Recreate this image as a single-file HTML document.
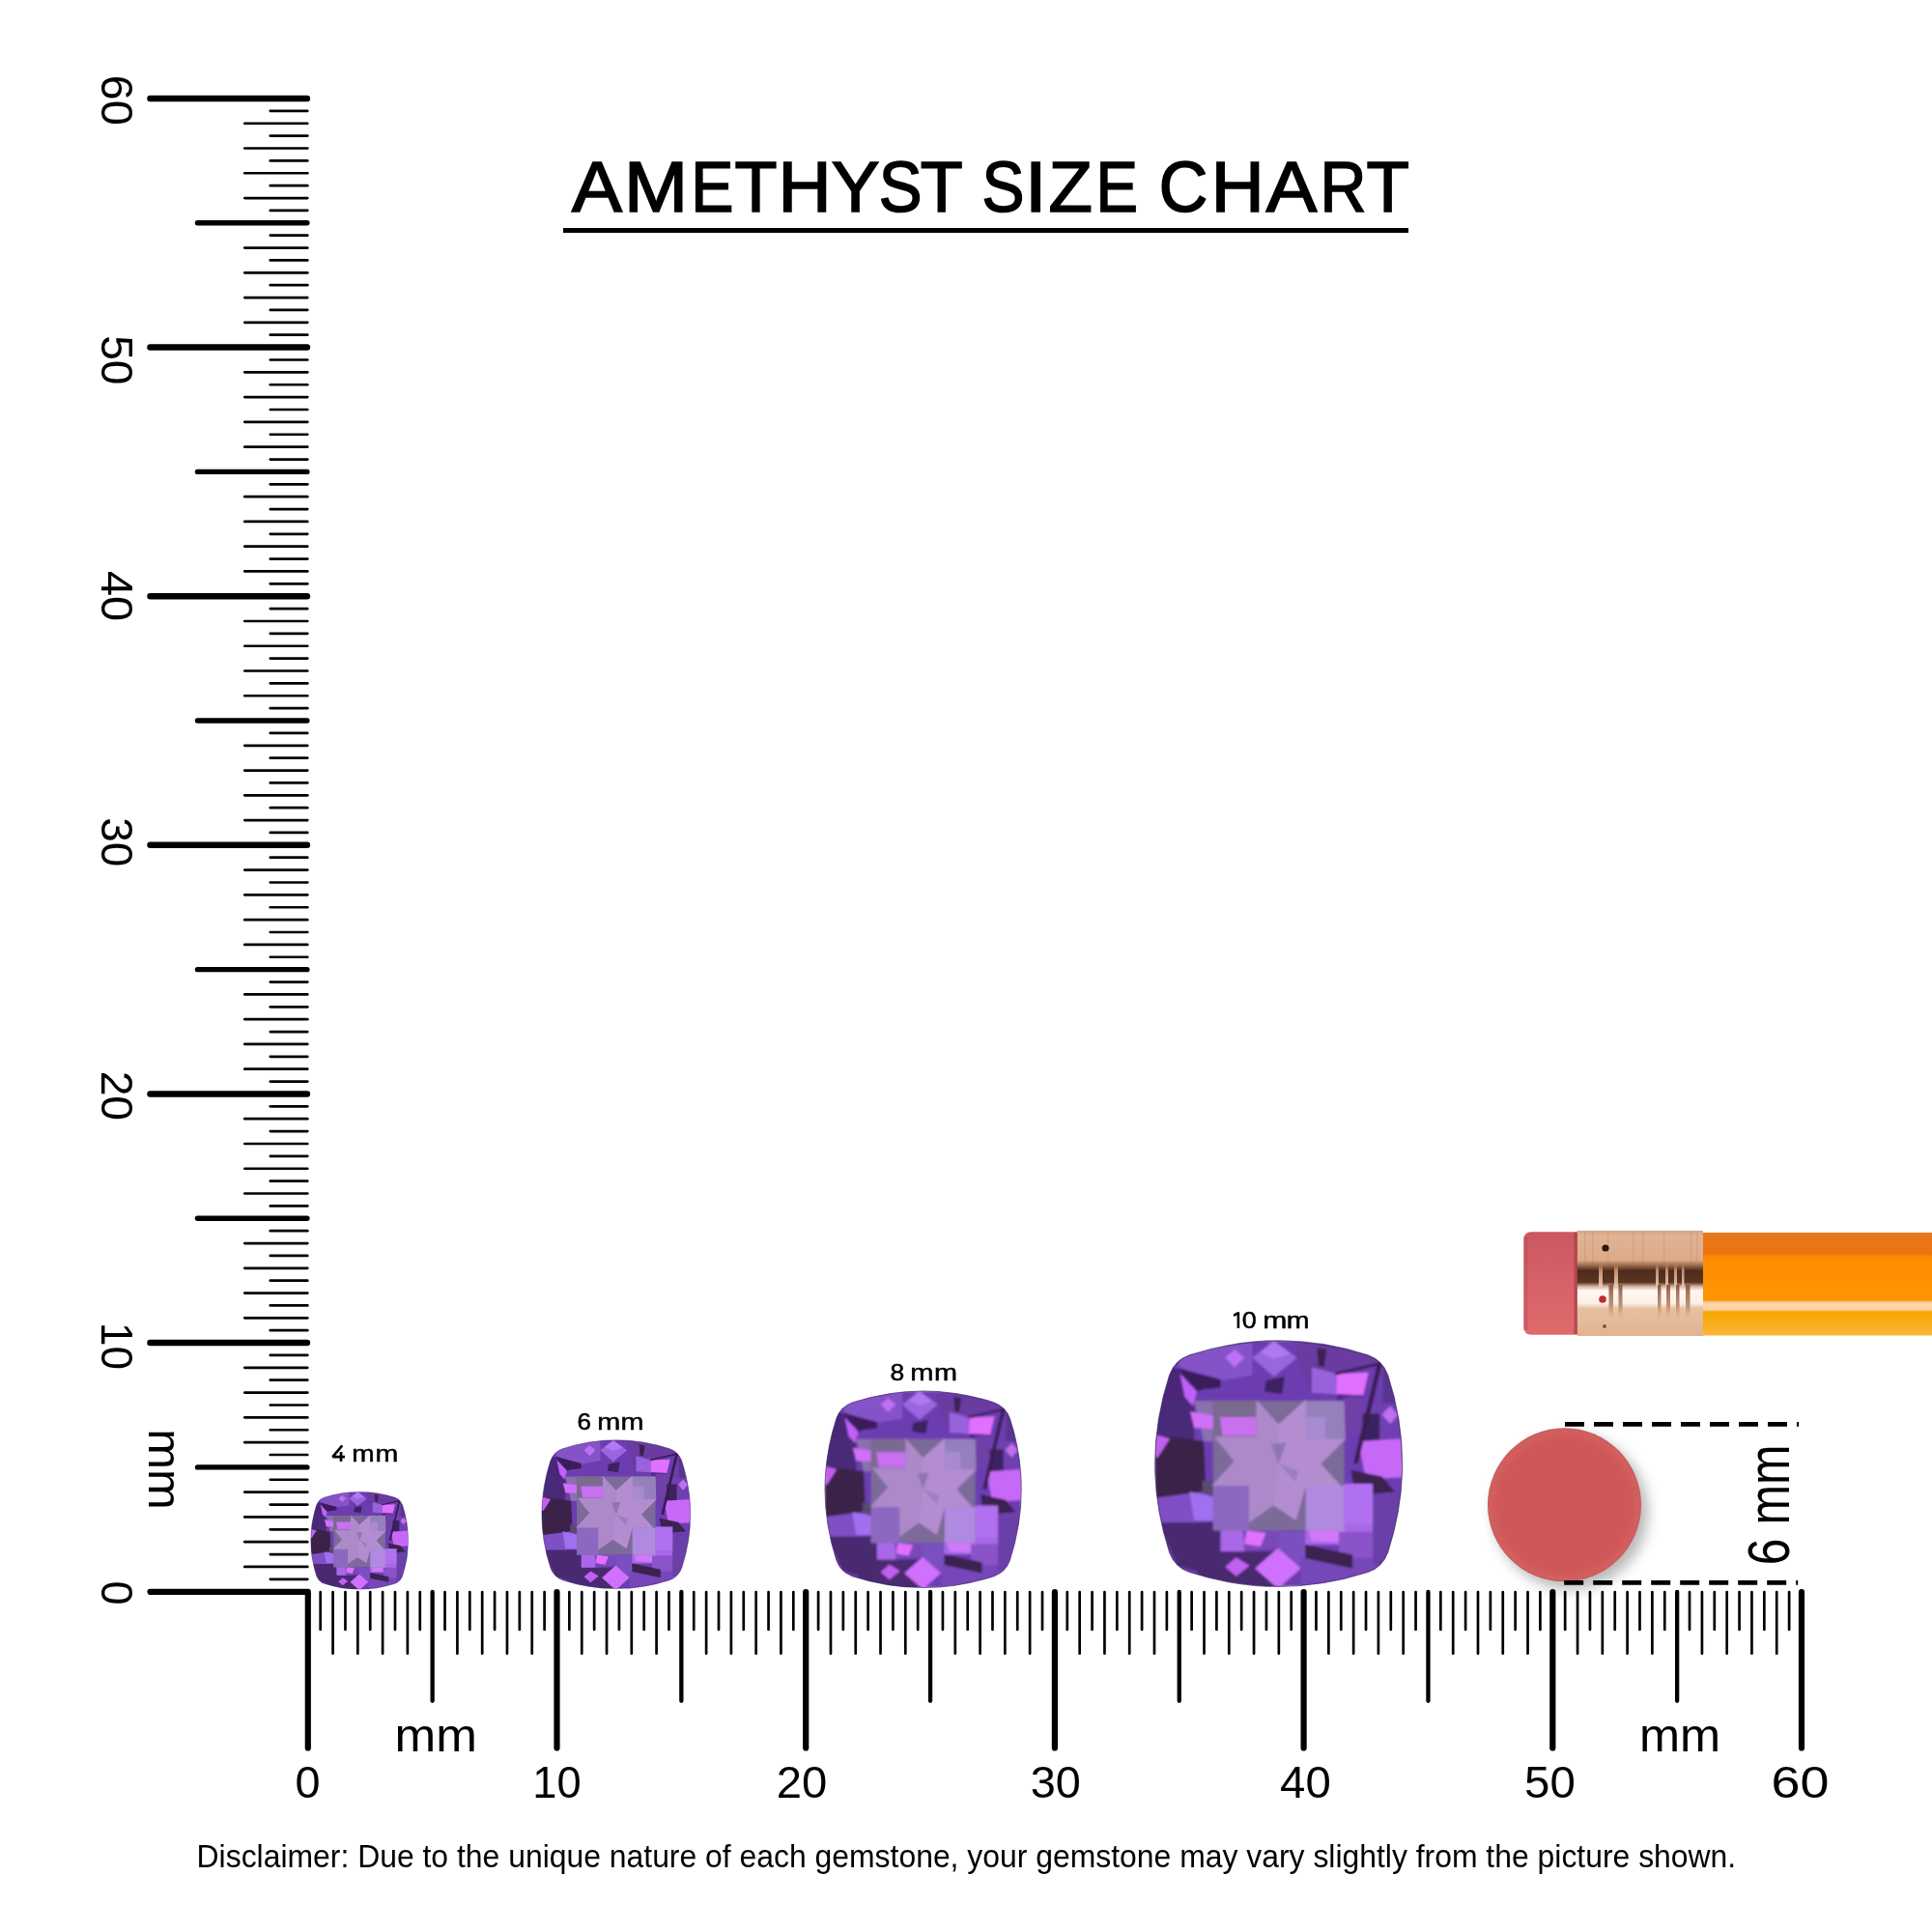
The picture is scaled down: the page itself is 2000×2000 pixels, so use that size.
<!DOCTYPE html>
<html><head><meta charset="utf-8"><title>Amethyst Size Chart</title>
<style>html,body{margin:0;padding:0;background:#fff;width:2000px;height:2000px;overflow:hidden}svg{display:block;will-change:transform}text{font-family:"Liberation Sans",sans-serif}</style>
</head><body>
<svg width="2000" height="2000" viewBox="0 0 2000 2000" font-family="Liberation Sans, sans-serif">
<defs><clipPath id="cc"><path d="M296.2 141.1 Q955.0 -71.1 1613.8 141.1 Q1724.3 179.9 1763.3 289.8 Q1976.7 945.0 1763.3 1600.2 Q1724.3 1710.1 1613.8 1748.9 Q955.0 1961.1 296.2 1748.9 Q185.7 1710.1 146.7 1600.2 Q-66.7 945.0 146.7 289.8 Q185.7 179.9 296.2 141.1Z"/></clipPath><filter id="gb" x="0" y="0" width="1" height="1"><feGaussianBlur stdDeviation="8"/></filter><g id="gem"><g clip-path="url(#cc)"><g filter="url(#gb)"><polygon points="40,35 1870,35 1870,1855 40,1855" fill="#6c3cb0"/><polygon points="200,100 760,40 760,290 520,330 220,230" fill="#8552c8"/><polygon points="630,100 700,160 630,230 560,160" fill="#c070f8"/><polygon points="920,35 1090,160 920,300 760,160" fill="#9a66e0"/><polygon points="920,40 1040,130 920,170 820,120" fill="#b278f4"/><polygon points="1090,40 1677,100 1700,200 1376,280 1200,420 1090,160" fill="#6a3aa0"/><polygon points="1240,90 1310,100 1290,230 1250,220" fill="#3a2050"/><polygon points="860,330 1000,300 980,430 850,410" fill="#3c2060"/><polygon points="1200,230 1387,280 1380,430 1200,420" fill="#9862dc"/><polygon points="1387,280 1620,270 1580,440 1380,430" fill="#e070ff"/><polygon points="1387,430 1580,440 1560,515 1387,515" fill="#5a2890"/><polygon points="40,300 330,300 330,780 40,780" fill="#4a2a78"/><polygon points="150,230 520,320 350,420 230,480 100,460" fill="#4a2878"/><polygon points="215,240 525,320 525,380 350,400" fill="#3a1a5a"/><polygon points="225,280 350,410 320,520 260,450" fill="#c060f8"/><polygon points="330,480 470,480 470,780 400,780" fill="#8a70b0"/><polygon points="300,560 540,600 540,690 330,680" fill="#d070f8"/><polygon points="40,730 400,780 420,1200 40,1230" fill="#3a2448"/><polygon points="40,730 150,760 60,900 40,890" fill="#c060f0"/><polygon points="40,1200 420,1150 513,1367 60,1400" fill="#8050c8"/><polygon points="295,1154 513,1200 513,1367 330,1367" fill="#a070f0"/><polygon points="390,1070 475,1070 475,1170 390,1170" fill="#5a4a70"/><polygon points="60,1380 540,1380 560,1800 210,1705" fill="#4a2c70"/><polygon points="350,1595 950,1595 950,1870 350,1870" fill="#4a2a70"/><polygon points="640,1640 740,1700 640,1780 560,1710" fill="#c060f0"/><polygon points="525,1395 720,1395 700,1595 525,1595" fill="#a868e8"/><polygon points="690,1420 966,1420 950,1570 700,1595" fill="#7a48b8"/><polygon points="720,1440 860,1460 820,1560 700,1540" fill="#e070ff"/><polygon points="952,1445 1177,1445 1177,1645 1120,1720 952,1570" fill="#7a50c0"/><polygon points="950,1570 1120,1720 950,1870 780,1720" fill="#d070ff"/><polygon points="1152,1395 1652,1395 1652,1545 1152,1545" fill="#a868e8"/><polygon points="1160,1380 1420,1400 1500,1530 1200,1520" fill="#d078f8"/><polygon points="1120,1645 1702,1645 1702,1870 1120,1870" fill="#7446b8"/><polygon points="1400,1450 1652,1450 1652,1645 1400,1645" fill="#8a52c8"/><polygon points="1152,1545 1502,1620 1502,1720 1152,1645" fill="#3a2050"/><polygon points="1727,250 1870,250 1870,525 1727,525" fill="#5a3490"/><polygon points="1577,500 1870,500 1870,966 1577,966" fill="#7040b0"/><polygon points="1780,520 1840,580 1780,650 1720,580" fill="#c070f0"/><polygon points="1552,575 1702,575 1702,775 1552,775" fill="#3a2060"/><polygon points="1546,781 1870,760 1870,1046 1600,1060" fill="#c868f8"/><polygon points="1490,993 1720,1040 1815,1154 1520,1180" fill="#3a2050"/><polygon points="1652,1190 1870,1190 1870,1695 1652,1695" fill="#6a40a8"/><polygon points="1402,1095 1652,1095 1652,1395 1402,1395" fill="#b070f0"/><polygon points="1440,450 1577,450 1577,740 1440,740" fill="#6e40a8"/><polygon points="1690,190 1720,205 1540,950 1510,940" fill="#3a1a50"/><polygon points="1700,195 1376,270 1376,290 1700,215" fill="#3a1a50"/><polygon points="470,480 1440,480 1440,1440 470,1440" fill="#7b6a99"/><polygon points="470,480 790,480 790,745 470,745" fill="#7a6a90"/><polygon points="520,600 790,600 790,740 540,740" fill="#c870f0"/><polygon points="1156,480 1440,480 1449,763 1156,763" fill="#9680bc"/><polygon points="1156,600 1300,600 1300,763 1156,763" fill="#a88ad0"/><polygon points="470,1109 735,1109 735,1440 470,1440" fill="#8c68c0"/><polygon points="1156,1109 1440,1109 1440,1440 1156,1440" fill="#b08ae0"/><polygon points="790,472 955,654 1156,472 1156,763 1449,763 1266,945 1413,1109 1156,1109 1083,1364 918,1254 735,1382 735,1109 461,1109 626,927 479,745 790,745" fill="#ad89ca"/><polygon points="955,654 1156,472 1156,763 1449,763 1266,945 1413,1109 1156,1109 1083,1364 918,1254 955,945" fill="#b48dd0"/><polygon points="955,945 900,800 1010,790" fill="#8f76b0"/><polygon points="955,945 1100,1000 1080,1080" fill="#9a80bc"/></g></g><path d="M296.2 141.1 Q955.0 -71.1 1613.8 141.1 Q1724.3 179.9 1763.3 289.8 Q1976.7 945.0 1763.3 1600.2 Q1724.3 1710.1 1613.8 1748.9 Q955.0 1961.1 296.2 1748.9 Q185.7 1710.1 146.7 1600.2 Q-66.7 945.0 146.7 289.8 Q185.7 179.9 296.2 141.1Z" fill="none" stroke="#3e2266" stroke-width="9" opacity="0.7"/></g>
<linearGradient id="er" x1="0" y1="0" x2="0" y2="1"><stop offset="0" stop-color="#cb5860"/><stop offset="0.5" stop-color="#d6626a"/><stop offset="1" stop-color="#e06b6c"/></linearGradient>
<linearGradient id="fe" x1="0" y1="0" x2="0" y2="1">
 <stop offset="0" stop-color="#d4a484"/><stop offset="0.05" stop-color="#e2b494"/><stop offset="0.28" stop-color="#dcaa88"/>
 <stop offset="0.33" stop-color="#9a6a4c"/><stop offset="0.38" stop-color="#4e2c1c"/><stop offset="0.49" stop-color="#5a3422"/><stop offset="0.53" stop-color="#d8b49c"/>
 <stop offset="0.57" stop-color="#fff8f2"/><stop offset="0.69" stop-color="#fbefe6"/><stop offset="0.74" stop-color="#e8c0a0"/><stop offset="1" stop-color="#e2b490"/></linearGradient>
<linearGradient id="stD" x1="0" y1="0" x2="0" y2="1"><stop offset="0" stop-color="#c89070" stop-opacity="0"/><stop offset="0.3" stop-color="#d09a78" stop-opacity="0.9"/><stop offset="1" stop-color="#f0d0b8" stop-opacity="0.9"/></linearGradient>
<linearGradient id="stL" x1="0" y1="0" x2="0" y2="1"><stop offset="0" stop-color="#8a5034" stop-opacity="0.9"/><stop offset="0.6" stop-color="#a06848" stop-opacity="0.7"/><stop offset="1" stop-color="#c08868" stop-opacity="0"/></linearGradient>
<linearGradient id="bo" x1="0" y1="0" x2="0" y2="1">
 <stop offset="0" stop-color="#e8781e"/><stop offset="0.2" stop-color="#eb7410"/><stop offset="0.24" stop-color="#ff8a00"/>
 <stop offset="0.66" stop-color="#ff9600"/><stop offset="0.67" stop-color="#f7c090"/><stop offset="0.7" stop-color="#fdd8ac"/><stop offset="0.75" stop-color="#fcd0a0"/>
 <stop offset="0.77" stop-color="#f6a600"/><stop offset="1" stop-color="#fdb43a"/></linearGradient>
<radialGradient id="rc" cx="0.5" cy="0.5" r="0.5"><stop offset="0.85" stop-color="#cf5758"/><stop offset="0.97" stop-color="#d2605f"/><stop offset="1" stop-color="#c8595a"/></radialGradient>
<filter id="sh" x="-30%" y="-30%" width="160%" height="160%"><feGaussianBlur stdDeviation="7"/></filter></defs>
<rect width="2000" height="2000" fill="#fff"/>
<g font-size="73.7" stroke="#000" stroke-width="1.7"><text x="591.90" y="218.8" textLength="51.90" lengthAdjust="spacingAndGlyphs">A</text><text x="646.14" y="218.8" textLength="66.12" lengthAdjust="spacingAndGlyphs">M</text><text x="715.22" y="218.8" textLength="44.18" lengthAdjust="spacingAndGlyphs">E</text><text x="760.53" y="218.8" textLength="43.97" lengthAdjust="spacingAndGlyphs">T</text><text x="805.59" y="218.8" textLength="55.07" lengthAdjust="spacingAndGlyphs">H</text><text x="860.71" y="218.8" textLength="49.67" lengthAdjust="spacingAndGlyphs">Y</text><text x="909.81" y="218.8" textLength="44.72" lengthAdjust="spacingAndGlyphs">S</text><text x="952.63" y="218.8" textLength="43.97" lengthAdjust="spacingAndGlyphs">T</text><text x="1016.56" y="218.8" textLength="43.91" lengthAdjust="spacingAndGlyphs">S</text><text x="1060.83" y="218.8" textLength="22.94" lengthAdjust="spacingAndGlyphs">I</text><text x="1085.49" y="218.8" textLength="45.38" lengthAdjust="spacingAndGlyphs">Z</text><text x="1134.51" y="218.8" textLength="43.44" lengthAdjust="spacingAndGlyphs">E</text><text x="1199.70" y="218.8" textLength="50.52" lengthAdjust="spacingAndGlyphs">C</text><text x="1253.81" y="218.8" textLength="54.95" lengthAdjust="spacingAndGlyphs">H</text><text x="1310.80" y="218.8" textLength="52.51" lengthAdjust="spacingAndGlyphs">A</text><text x="1366.41" y="218.8" textLength="47.92" lengthAdjust="spacingAndGlyphs">R</text><text x="1414.42" y="218.8" textLength="44.40" lengthAdjust="spacingAndGlyphs">T</text></g><rect x="583" y="236" width="875" height="5" fill="#000"/>
<g stroke="#000" stroke-linecap="round"><line x1="279.8" y1="1634.82" x2="318.3" y2="1634.82" stroke-width="2.7"/><line x1="253.3" y1="1621.94" x2="318.3" y2="1621.94" stroke-width="2.7"/><line x1="279.8" y1="1609.06" x2="318.3" y2="1609.06" stroke-width="2.7"/><line x1="253.3" y1="1596.18" x2="318.3" y2="1596.18" stroke-width="2.7"/><line x1="279.8" y1="1583.30" x2="318.3" y2="1583.30" stroke-width="2.7"/><line x1="253.3" y1="1570.41" x2="318.3" y2="1570.41" stroke-width="2.7"/><line x1="279.8" y1="1557.53" x2="318.3" y2="1557.53" stroke-width="2.7"/><line x1="253.3" y1="1544.65" x2="318.3" y2="1544.65" stroke-width="2.7"/><line x1="279.8" y1="1531.77" x2="318.3" y2="1531.77" stroke-width="2.7"/><line x1="204.5" y1="1518.89" x2="317.9" y2="1518.89" stroke-width="5.4"/><line x1="279.8" y1="1506.01" x2="318.3" y2="1506.01" stroke-width="2.7"/><line x1="253.3" y1="1493.13" x2="318.3" y2="1493.13" stroke-width="2.7"/><line x1="279.8" y1="1480.25" x2="318.3" y2="1480.25" stroke-width="2.7"/><line x1="253.3" y1="1467.37" x2="318.3" y2="1467.37" stroke-width="2.7"/><line x1="279.8" y1="1454.49" x2="318.3" y2="1454.49" stroke-width="2.7"/><line x1="253.3" y1="1441.60" x2="318.3" y2="1441.60" stroke-width="2.7"/><line x1="279.8" y1="1428.72" x2="318.3" y2="1428.72" stroke-width="2.7"/><line x1="253.3" y1="1415.84" x2="318.3" y2="1415.84" stroke-width="2.7"/><line x1="279.8" y1="1402.96" x2="318.3" y2="1402.96" stroke-width="2.7"/><line x1="155.5" y1="1390.08" x2="317.9" y2="1390.08" stroke-width="6.5"/><line x1="279.8" y1="1377.20" x2="318.3" y2="1377.20" stroke-width="2.7"/><line x1="253.3" y1="1364.32" x2="318.3" y2="1364.32" stroke-width="2.7"/><line x1="279.8" y1="1351.44" x2="318.3" y2="1351.44" stroke-width="2.7"/><line x1="253.3" y1="1338.56" x2="318.3" y2="1338.56" stroke-width="2.7"/><line x1="279.8" y1="1325.68" x2="318.3" y2="1325.68" stroke-width="2.7"/><line x1="253.3" y1="1312.79" x2="318.3" y2="1312.79" stroke-width="2.7"/><line x1="279.8" y1="1299.91" x2="318.3" y2="1299.91" stroke-width="2.7"/><line x1="253.3" y1="1287.03" x2="318.3" y2="1287.03" stroke-width="2.7"/><line x1="279.8" y1="1274.15" x2="318.3" y2="1274.15" stroke-width="2.7"/><line x1="204.5" y1="1261.27" x2="317.9" y2="1261.27" stroke-width="5.4"/><line x1="279.8" y1="1248.39" x2="318.3" y2="1248.39" stroke-width="2.7"/><line x1="253.3" y1="1235.51" x2="318.3" y2="1235.51" stroke-width="2.7"/><line x1="279.8" y1="1222.63" x2="318.3" y2="1222.63" stroke-width="2.7"/><line x1="253.3" y1="1209.75" x2="318.3" y2="1209.75" stroke-width="2.7"/><line x1="279.8" y1="1196.87" x2="318.3" y2="1196.87" stroke-width="2.7"/><line x1="253.3" y1="1183.98" x2="318.3" y2="1183.98" stroke-width="2.7"/><line x1="279.8" y1="1171.10" x2="318.3" y2="1171.10" stroke-width="2.7"/><line x1="253.3" y1="1158.22" x2="318.3" y2="1158.22" stroke-width="2.7"/><line x1="279.8" y1="1145.34" x2="318.3" y2="1145.34" stroke-width="2.7"/><line x1="155.5" y1="1132.46" x2="317.9" y2="1132.46" stroke-width="6.5"/><line x1="279.8" y1="1119.58" x2="318.3" y2="1119.58" stroke-width="2.7"/><line x1="253.3" y1="1106.70" x2="318.3" y2="1106.70" stroke-width="2.7"/><line x1="279.8" y1="1093.82" x2="318.3" y2="1093.82" stroke-width="2.7"/><line x1="253.3" y1="1080.94" x2="318.3" y2="1080.94" stroke-width="2.7"/><line x1="279.8" y1="1068.06" x2="318.3" y2="1068.06" stroke-width="2.7"/><line x1="253.3" y1="1055.17" x2="318.3" y2="1055.17" stroke-width="2.7"/><line x1="279.8" y1="1042.29" x2="318.3" y2="1042.29" stroke-width="2.7"/><line x1="253.3" y1="1029.41" x2="318.3" y2="1029.41" stroke-width="2.7"/><line x1="279.8" y1="1016.53" x2="318.3" y2="1016.53" stroke-width="2.7"/><line x1="204.5" y1="1003.65" x2="317.9" y2="1003.65" stroke-width="5.4"/><line x1="279.8" y1="990.77" x2="318.3" y2="990.77" stroke-width="2.7"/><line x1="253.3" y1="977.89" x2="318.3" y2="977.89" stroke-width="2.7"/><line x1="279.8" y1="965.01" x2="318.3" y2="965.01" stroke-width="2.7"/><line x1="253.3" y1="952.13" x2="318.3" y2="952.13" stroke-width="2.7"/><line x1="279.8" y1="939.25" x2="318.3" y2="939.25" stroke-width="2.7"/><line x1="253.3" y1="926.36" x2="318.3" y2="926.36" stroke-width="2.7"/><line x1="279.8" y1="913.48" x2="318.3" y2="913.48" stroke-width="2.7"/><line x1="253.3" y1="900.60" x2="318.3" y2="900.60" stroke-width="2.7"/><line x1="279.8" y1="887.72" x2="318.3" y2="887.72" stroke-width="2.7"/><line x1="155.5" y1="874.84" x2="317.9" y2="874.84" stroke-width="6.5"/><line x1="279.8" y1="861.96" x2="318.3" y2="861.96" stroke-width="2.7"/><line x1="253.3" y1="849.08" x2="318.3" y2="849.08" stroke-width="2.7"/><line x1="279.8" y1="836.20" x2="318.3" y2="836.20" stroke-width="2.7"/><line x1="253.3" y1="823.32" x2="318.3" y2="823.32" stroke-width="2.7"/><line x1="279.8" y1="810.44" x2="318.3" y2="810.44" stroke-width="2.7"/><line x1="253.3" y1="797.55" x2="318.3" y2="797.55" stroke-width="2.7"/><line x1="279.8" y1="784.67" x2="318.3" y2="784.67" stroke-width="2.7"/><line x1="253.3" y1="771.79" x2="318.3" y2="771.79" stroke-width="2.7"/><line x1="279.8" y1="758.91" x2="318.3" y2="758.91" stroke-width="2.7"/><line x1="204.5" y1="746.03" x2="317.9" y2="746.03" stroke-width="5.4"/><line x1="279.8" y1="733.15" x2="318.3" y2="733.15" stroke-width="2.7"/><line x1="253.3" y1="720.27" x2="318.3" y2="720.27" stroke-width="2.7"/><line x1="279.8" y1="707.39" x2="318.3" y2="707.39" stroke-width="2.7"/><line x1="253.3" y1="694.51" x2="318.3" y2="694.51" stroke-width="2.7"/><line x1="279.8" y1="681.62" x2="318.3" y2="681.62" stroke-width="2.7"/><line x1="253.3" y1="668.74" x2="318.3" y2="668.74" stroke-width="2.7"/><line x1="279.8" y1="655.86" x2="318.3" y2="655.86" stroke-width="2.7"/><line x1="253.3" y1="642.98" x2="318.3" y2="642.98" stroke-width="2.7"/><line x1="279.8" y1="630.10" x2="318.3" y2="630.10" stroke-width="2.7"/><line x1="155.5" y1="617.22" x2="317.9" y2="617.22" stroke-width="6.5"/><line x1="279.8" y1="604.34" x2="318.3" y2="604.34" stroke-width="2.7"/><line x1="253.3" y1="591.46" x2="318.3" y2="591.46" stroke-width="2.7"/><line x1="279.8" y1="578.58" x2="318.3" y2="578.58" stroke-width="2.7"/><line x1="253.3" y1="565.70" x2="318.3" y2="565.70" stroke-width="2.7"/><line x1="279.8" y1="552.82" x2="318.3" y2="552.82" stroke-width="2.7"/><line x1="253.3" y1="539.93" x2="318.3" y2="539.93" stroke-width="2.7"/><line x1="279.8" y1="527.05" x2="318.3" y2="527.05" stroke-width="2.7"/><line x1="253.3" y1="514.17" x2="318.3" y2="514.17" stroke-width="2.7"/><line x1="279.8" y1="501.29" x2="318.3" y2="501.29" stroke-width="2.7"/><line x1="204.5" y1="488.41" x2="317.9" y2="488.41" stroke-width="5.4"/><line x1="279.8" y1="475.53" x2="318.3" y2="475.53" stroke-width="2.7"/><line x1="253.3" y1="462.65" x2="318.3" y2="462.65" stroke-width="2.7"/><line x1="279.8" y1="449.77" x2="318.3" y2="449.77" stroke-width="2.7"/><line x1="253.3" y1="436.89" x2="318.3" y2="436.89" stroke-width="2.7"/><line x1="279.8" y1="424.01" x2="318.3" y2="424.01" stroke-width="2.7"/><line x1="253.3" y1="411.12" x2="318.3" y2="411.12" stroke-width="2.7"/><line x1="279.8" y1="398.24" x2="318.3" y2="398.24" stroke-width="2.7"/><line x1="253.3" y1="385.36" x2="318.3" y2="385.36" stroke-width="2.7"/><line x1="279.8" y1="372.48" x2="318.3" y2="372.48" stroke-width="2.7"/><line x1="155.5" y1="359.60" x2="317.9" y2="359.60" stroke-width="6.5"/><line x1="279.8" y1="346.72" x2="318.3" y2="346.72" stroke-width="2.7"/><line x1="253.3" y1="333.84" x2="318.3" y2="333.84" stroke-width="2.7"/><line x1="279.8" y1="320.96" x2="318.3" y2="320.96" stroke-width="2.7"/><line x1="253.3" y1="308.08" x2="318.3" y2="308.08" stroke-width="2.7"/><line x1="279.8" y1="295.19" x2="318.3" y2="295.19" stroke-width="2.7"/><line x1="253.3" y1="282.31" x2="318.3" y2="282.31" stroke-width="2.7"/><line x1="279.8" y1="269.43" x2="318.3" y2="269.43" stroke-width="2.7"/><line x1="253.3" y1="256.55" x2="318.3" y2="256.55" stroke-width="2.7"/><line x1="279.8" y1="243.67" x2="318.3" y2="243.67" stroke-width="2.7"/><line x1="204.5" y1="230.79" x2="317.9" y2="230.79" stroke-width="5.4"/><line x1="279.8" y1="217.91" x2="318.3" y2="217.91" stroke-width="2.7"/><line x1="253.3" y1="205.03" x2="318.3" y2="205.03" stroke-width="2.7"/><line x1="279.8" y1="192.15" x2="318.3" y2="192.15" stroke-width="2.7"/><line x1="253.3" y1="179.27" x2="318.3" y2="179.27" stroke-width="2.7"/><line x1="279.8" y1="166.38" x2="318.3" y2="166.38" stroke-width="2.7"/><line x1="253.3" y1="153.50" x2="318.3" y2="153.50" stroke-width="2.7"/><line x1="279.8" y1="140.62" x2="318.3" y2="140.62" stroke-width="2.7"/><line x1="253.3" y1="127.74" x2="318.3" y2="127.74" stroke-width="2.7"/><line x1="279.8" y1="114.86" x2="318.3" y2="114.86" stroke-width="2.7"/><line x1="155.5" y1="101.98" x2="317.9" y2="101.98" stroke-width="6.5"/><line x1="331.69" y1="1648.0" x2="331.69" y2="1686.9" stroke-width="2.7"/><line x1="344.57" y1="1648.0" x2="344.57" y2="1711.7" stroke-width="2.7"/><line x1="357.46" y1="1648.0" x2="357.46" y2="1686.9" stroke-width="2.7"/><line x1="370.34" y1="1648.0" x2="370.34" y2="1711.7" stroke-width="2.7"/><line x1="383.23" y1="1648.0" x2="383.23" y2="1686.9" stroke-width="2.7"/><line x1="396.11" y1="1648.0" x2="396.11" y2="1711.7" stroke-width="2.7"/><line x1="409.00" y1="1648.0" x2="409.00" y2="1686.9" stroke-width="2.7"/><line x1="421.88" y1="1648.0" x2="421.88" y2="1711.7" stroke-width="2.7"/><line x1="434.76" y1="1648.0" x2="434.76" y2="1686.9" stroke-width="2.7"/><line x1="447.65" y1="1648.0" x2="447.65" y2="1760.8" stroke-width="4.3"/><line x1="460.53" y1="1648.0" x2="460.53" y2="1686.9" stroke-width="2.7"/><line x1="473.42" y1="1648.0" x2="473.42" y2="1711.7" stroke-width="2.7"/><line x1="486.31" y1="1648.0" x2="486.31" y2="1686.9" stroke-width="2.7"/><line x1="499.19" y1="1648.0" x2="499.19" y2="1711.7" stroke-width="2.7"/><line x1="512.08" y1="1648.0" x2="512.08" y2="1686.9" stroke-width="2.7"/><line x1="524.96" y1="1648.0" x2="524.96" y2="1711.7" stroke-width="2.7"/><line x1="537.85" y1="1648.0" x2="537.85" y2="1686.9" stroke-width="2.7"/><line x1="550.73" y1="1648.0" x2="550.73" y2="1711.7" stroke-width="2.7"/><line x1="563.62" y1="1648.0" x2="563.62" y2="1686.9" stroke-width="2.7"/><line x1="576.50" y1="1648.0" x2="576.50" y2="1809.5" stroke-width="6.2"/><line x1="589.38" y1="1648.0" x2="589.38" y2="1686.9" stroke-width="2.7"/><line x1="602.27" y1="1648.0" x2="602.27" y2="1711.7" stroke-width="2.7"/><line x1="615.15" y1="1648.0" x2="615.15" y2="1686.9" stroke-width="2.7"/><line x1="628.04" y1="1648.0" x2="628.04" y2="1711.7" stroke-width="2.7"/><line x1="640.92" y1="1648.0" x2="640.92" y2="1686.9" stroke-width="2.7"/><line x1="653.81" y1="1648.0" x2="653.81" y2="1711.7" stroke-width="2.7"/><line x1="666.69" y1="1648.0" x2="666.69" y2="1686.9" stroke-width="2.7"/><line x1="679.58" y1="1648.0" x2="679.58" y2="1711.7" stroke-width="2.7"/><line x1="692.47" y1="1648.0" x2="692.47" y2="1686.9" stroke-width="2.7"/><line x1="705.35" y1="1648.0" x2="705.35" y2="1760.8" stroke-width="4.3"/><line x1="718.24" y1="1648.0" x2="718.24" y2="1686.9" stroke-width="2.7"/><line x1="731.12" y1="1648.0" x2="731.12" y2="1711.7" stroke-width="2.7"/><line x1="744.00" y1="1648.0" x2="744.00" y2="1686.9" stroke-width="2.7"/><line x1="756.89" y1="1648.0" x2="756.89" y2="1711.7" stroke-width="2.7"/><line x1="769.77" y1="1648.0" x2="769.77" y2="1686.9" stroke-width="2.7"/><line x1="782.66" y1="1648.0" x2="782.66" y2="1711.7" stroke-width="2.7"/><line x1="795.55" y1="1648.0" x2="795.55" y2="1686.9" stroke-width="2.7"/><line x1="808.43" y1="1648.0" x2="808.43" y2="1711.7" stroke-width="2.7"/><line x1="821.32" y1="1648.0" x2="821.32" y2="1686.9" stroke-width="2.7"/><line x1="834.20" y1="1648.0" x2="834.20" y2="1809.5" stroke-width="6.2"/><line x1="847.09" y1="1648.0" x2="847.09" y2="1686.9" stroke-width="2.7"/><line x1="859.97" y1="1648.0" x2="859.97" y2="1711.7" stroke-width="2.7"/><line x1="872.86" y1="1648.0" x2="872.86" y2="1686.9" stroke-width="2.7"/><line x1="885.74" y1="1648.0" x2="885.74" y2="1711.7" stroke-width="2.7"/><line x1="898.62" y1="1648.0" x2="898.62" y2="1686.9" stroke-width="2.7"/><line x1="911.51" y1="1648.0" x2="911.51" y2="1711.7" stroke-width="2.7"/><line x1="924.39" y1="1648.0" x2="924.39" y2="1686.9" stroke-width="2.7"/><line x1="937.28" y1="1648.0" x2="937.28" y2="1711.7" stroke-width="2.7"/><line x1="950.16" y1="1648.0" x2="950.16" y2="1686.9" stroke-width="2.7"/><line x1="963.05" y1="1648.0" x2="963.05" y2="1760.8" stroke-width="4.3"/><line x1="975.93" y1="1648.0" x2="975.93" y2="1686.9" stroke-width="2.7"/><line x1="988.82" y1="1648.0" x2="988.82" y2="1711.7" stroke-width="2.7"/><line x1="1001.70" y1="1648.0" x2="1001.70" y2="1686.9" stroke-width="2.7"/><line x1="1014.59" y1="1648.0" x2="1014.59" y2="1711.7" stroke-width="2.7"/><line x1="1027.47" y1="1648.0" x2="1027.47" y2="1686.9" stroke-width="2.7"/><line x1="1040.36" y1="1648.0" x2="1040.36" y2="1711.7" stroke-width="2.7"/><line x1="1053.24" y1="1648.0" x2="1053.24" y2="1686.9" stroke-width="2.7"/><line x1="1066.13" y1="1648.0" x2="1066.13" y2="1711.7" stroke-width="2.7"/><line x1="1079.02" y1="1648.0" x2="1079.02" y2="1686.9" stroke-width="2.7"/><line x1="1091.90" y1="1648.0" x2="1091.90" y2="1809.5" stroke-width="6.2"/><line x1="1104.79" y1="1648.0" x2="1104.79" y2="1686.9" stroke-width="2.7"/><line x1="1117.67" y1="1648.0" x2="1117.67" y2="1711.7" stroke-width="2.7"/><line x1="1130.56" y1="1648.0" x2="1130.56" y2="1686.9" stroke-width="2.7"/><line x1="1143.44" y1="1648.0" x2="1143.44" y2="1711.7" stroke-width="2.7"/><line x1="1156.33" y1="1648.0" x2="1156.33" y2="1686.9" stroke-width="2.7"/><line x1="1169.21" y1="1648.0" x2="1169.21" y2="1711.7" stroke-width="2.7"/><line x1="1182.10" y1="1648.0" x2="1182.10" y2="1686.9" stroke-width="2.7"/><line x1="1194.98" y1="1648.0" x2="1194.98" y2="1711.7" stroke-width="2.7"/><line x1="1207.87" y1="1648.0" x2="1207.87" y2="1686.9" stroke-width="2.7"/><line x1="1220.75" y1="1648.0" x2="1220.75" y2="1760.8" stroke-width="4.3"/><line x1="1233.63" y1="1648.0" x2="1233.63" y2="1686.9" stroke-width="2.7"/><line x1="1246.52" y1="1648.0" x2="1246.52" y2="1711.7" stroke-width="2.7"/><line x1="1259.40" y1="1648.0" x2="1259.40" y2="1686.9" stroke-width="2.7"/><line x1="1272.29" y1="1648.0" x2="1272.29" y2="1711.7" stroke-width="2.7"/><line x1="1285.17" y1="1648.0" x2="1285.17" y2="1686.9" stroke-width="2.7"/><line x1="1298.06" y1="1648.0" x2="1298.06" y2="1711.7" stroke-width="2.7"/><line x1="1310.94" y1="1648.0" x2="1310.94" y2="1686.9" stroke-width="2.7"/><line x1="1323.83" y1="1648.0" x2="1323.83" y2="1711.7" stroke-width="2.7"/><line x1="1336.71" y1="1648.0" x2="1336.71" y2="1686.9" stroke-width="2.7"/><line x1="1349.60" y1="1648.0" x2="1349.60" y2="1809.5" stroke-width="6.2"/><line x1="1362.48" y1="1648.0" x2="1362.48" y2="1686.9" stroke-width="2.7"/><line x1="1375.37" y1="1648.0" x2="1375.37" y2="1711.7" stroke-width="2.7"/><line x1="1388.25" y1="1648.0" x2="1388.25" y2="1686.9" stroke-width="2.7"/><line x1="1401.14" y1="1648.0" x2="1401.14" y2="1711.7" stroke-width="2.7"/><line x1="1414.02" y1="1648.0" x2="1414.02" y2="1686.9" stroke-width="2.7"/><line x1="1426.91" y1="1648.0" x2="1426.91" y2="1711.7" stroke-width="2.7"/><line x1="1439.79" y1="1648.0" x2="1439.79" y2="1686.9" stroke-width="2.7"/><line x1="1452.68" y1="1648.0" x2="1452.68" y2="1711.7" stroke-width="2.7"/><line x1="1465.56" y1="1648.0" x2="1465.56" y2="1686.9" stroke-width="2.7"/><line x1="1478.45" y1="1648.0" x2="1478.45" y2="1760.8" stroke-width="4.3"/><line x1="1491.34" y1="1648.0" x2="1491.34" y2="1686.9" stroke-width="2.7"/><line x1="1504.22" y1="1648.0" x2="1504.22" y2="1711.7" stroke-width="2.7"/><line x1="1517.11" y1="1648.0" x2="1517.11" y2="1686.9" stroke-width="2.7"/><line x1="1529.99" y1="1648.0" x2="1529.99" y2="1711.7" stroke-width="2.7"/><line x1="1542.88" y1="1648.0" x2="1542.88" y2="1686.9" stroke-width="2.7"/><line x1="1555.76" y1="1648.0" x2="1555.76" y2="1711.7" stroke-width="2.7"/><line x1="1568.64" y1="1648.0" x2="1568.64" y2="1686.9" stroke-width="2.7"/><line x1="1581.53" y1="1648.0" x2="1581.53" y2="1711.7" stroke-width="2.7"/><line x1="1594.41" y1="1648.0" x2="1594.41" y2="1686.9" stroke-width="2.7"/><line x1="1607.30" y1="1648.0" x2="1607.30" y2="1809.5" stroke-width="6.2"/><line x1="1620.18" y1="1648.0" x2="1620.18" y2="1686.9" stroke-width="2.7"/><line x1="1633.07" y1="1648.0" x2="1633.07" y2="1711.7" stroke-width="2.7"/><line x1="1645.95" y1="1648.0" x2="1645.95" y2="1686.9" stroke-width="2.7"/><line x1="1658.84" y1="1648.0" x2="1658.84" y2="1711.7" stroke-width="2.7"/><line x1="1671.72" y1="1648.0" x2="1671.72" y2="1686.9" stroke-width="2.7"/><line x1="1684.61" y1="1648.0" x2="1684.61" y2="1711.7" stroke-width="2.7"/><line x1="1697.49" y1="1648.0" x2="1697.49" y2="1686.9" stroke-width="2.7"/><line x1="1710.38" y1="1648.0" x2="1710.38" y2="1711.7" stroke-width="2.7"/><line x1="1723.26" y1="1648.0" x2="1723.26" y2="1686.9" stroke-width="2.7"/><line x1="1736.15" y1="1648.0" x2="1736.15" y2="1760.8" stroke-width="4.3"/><line x1="1749.03" y1="1648.0" x2="1749.03" y2="1686.9" stroke-width="2.7"/><line x1="1761.92" y1="1648.0" x2="1761.92" y2="1711.7" stroke-width="2.7"/><line x1="1774.80" y1="1648.0" x2="1774.80" y2="1686.9" stroke-width="2.7"/><line x1="1787.69" y1="1648.0" x2="1787.69" y2="1711.7" stroke-width="2.7"/><line x1="1800.57" y1="1648.0" x2="1800.57" y2="1686.9" stroke-width="2.7"/><line x1="1813.46" y1="1648.0" x2="1813.46" y2="1711.7" stroke-width="2.7"/><line x1="1826.35" y1="1648.0" x2="1826.35" y2="1686.9" stroke-width="2.7"/><line x1="1839.23" y1="1648.0" x2="1839.23" y2="1711.7" stroke-width="2.7"/><line x1="1852.12" y1="1648.0" x2="1852.12" y2="1686.9" stroke-width="2.7"/><line x1="1865.00" y1="1648.0" x2="1865.00" y2="1809.5" stroke-width="6.2"/></g>
<g stroke="#000"><path d="M155.5 1647.8 H318.8 V1809.5" fill="none" stroke-width="6.2" stroke-linejoin="round" stroke-linecap="round"/></g>
<g font-size="46.5" fill="#000"><text transform="translate(104.6 0) rotate(90)" x="77.62" y="0" textLength="52.22" lengthAdjust="spacingAndGlyphs">60</text><text transform="translate(104.6 0) rotate(90)" x="347.16" y="0" textLength="51.24" lengthAdjust="spacingAndGlyphs">50</text><text transform="translate(104.6 0) rotate(90)" x="590.92" y="0" textLength="52.32" lengthAdjust="spacingAndGlyphs">40</text><text transform="translate(104.6 0) rotate(90)" x="846.15" y="0" textLength="51.15" lengthAdjust="spacingAndGlyphs">30</text><text transform="translate(104.6 0) rotate(90)" x="1108.67" y="0" textLength="51.43" lengthAdjust="spacingAndGlyphs">20</text><text transform="translate(104.6 0) rotate(90)" x="1369.05" y="0" textLength="48.97" lengthAdjust="spacingAndGlyphs">10</text><text transform="translate(104.6 0) rotate(90)" x="1636.54" y="0" textLength="25.01" lengthAdjust="spacingAndGlyphs">0</text><text x="305.47" y="1861.2" textLength="26.06" lengthAdjust="spacingAndGlyphs">0</text><text x="551.35" y="1861.2" textLength="50.31" lengthAdjust="spacingAndGlyphs">10</text><text x="803.83" y="1861.2" textLength="52.52" lengthAdjust="spacingAndGlyphs">20</text><text x="1066.72" y="1861.2" textLength="52.11" lengthAdjust="spacingAndGlyphs">30</text><text x="1325.11" y="1861.2" textLength="52.63" lengthAdjust="spacingAndGlyphs">40</text><text x="1578.10" y="1861.2" textLength="52.75" lengthAdjust="spacingAndGlyphs">50</text><text x="1833.56" y="1861.2" textLength="59.94" lengthAdjust="spacingAndGlyphs">60</text></g>
<g font-size="49">
<text x="408.60" y="1812.5" textLength="85.38" lengthAdjust="spacingAndGlyphs">mm</text>
<text x="1696.94" y="1812.5" textLength="84.19" lengthAdjust="spacingAndGlyphs">mm</text>
<text transform="translate(153.8 0) rotate(90)" font-size="47.6" x="1479.27" y="0" textLength="83.64" lengthAdjust="spacingAndGlyphs">mm</text>
</g>
<use href="#gem" transform="translate(321.6 1544.2) scale(0.05525 0.05555) translate(-40 -35)"/><use href="#gem" transform="translate(560.9 1490.8) scale(0.08404 0.08451) translate(-40 -35)"/><use href="#gem" transform="translate(854 1440) scale(0.11109 0.11187) translate(-40 -35)"/><use href="#gem" transform="translate(1195.7 1388) scale(0.13984 0.13973) translate(-40 -35)"/>
<g font-size="24" fill="#000" stroke="#000" stroke-width="0.5"><text x="364.18" y="1512.9" textLength="23.42" lengthAdjust="spacingAndGlyphs">m</text><text x="388.55" y="1512.9" textLength="23.78" lengthAdjust="spacingAndGlyphs">m</text><text x="597.53" y="1479.6" textLength="14.46" lengthAdjust="spacingAndGlyphs">6</text><text x="618.24" y="1479.6" textLength="24.01" lengthAdjust="spacingAndGlyphs">m</text><text x="642.64" y="1479.6" textLength="24.01" lengthAdjust="spacingAndGlyphs">m</text><text x="921.40" y="1428.5" textLength="14.70" lengthAdjust="spacingAndGlyphs">8</text><text x="942.32" y="1428.5" textLength="24.25" lengthAdjust="spacingAndGlyphs">m</text><text x="967.04" y="1428.5" textLength="24.01" lengthAdjust="spacingAndGlyphs">m</text><text x="1285.70" y="1374.9" textLength="15.01" lengthAdjust="spacingAndGlyphs">0</text><text x="1307.25" y="1374.9" textLength="25.08" lengthAdjust="spacingAndGlyphs">m</text><text x="1331.85" y="1374.9" textLength="23.78" lengthAdjust="spacingAndGlyphs">m</text></g><path d="M354.3 1496.4 L344.4 1508.1 H357" fill="none" stroke="#000" stroke-width="2.6" stroke-linejoin="bevel"/><rect x="351.7" y="1503" width="2.7" height="9.9" fill="#000"/><path d="M1280.6 1358.3 H1283.2 V1374.9 H1280.6 V1361.2 L1277.6 1362.9 L1276.6 1360.8 Z" fill="#000"/>

<rect x="1762" y="1276" width="240" height="106.5" fill="url(#bo)"/>
<path d="M1585.4 1275.3 H1633 V1381.8 H1585.4 Q1577.4 1381.8 1577.4 1373.8 V1283.3 Q1577.4 1275.3 1585.4 1275.3Z" fill="url(#er)"/>
<rect x="1577.4" y="1280" width="4" height="97" fill="#b84e56" opacity="0.5"/>
<rect x="1632.5" y="1274" width="130.5" height="109" fill="url(#fe)"/>
<g fill="url(#stD)"><rect x="1655" y="1308" width="4" height="24"/><rect x="1671" y="1308" width="4" height="24"/><rect x="1714" y="1308" width="3" height="24"/><rect x="1724" y="1308" width="3" height="24"/><rect x="1733" y="1308" width="3" height="24"/><rect x="1741" y="1308" width="2.5" height="24"/></g>
<g fill="url(#stL)"><rect x="1665.5" y="1330" width="4.5" height="34"/><rect x="1675.5" y="1330" width="4" height="34"/><rect x="1716" y="1330" width="3.5" height="34"/><rect x="1725" y="1330" width="4" height="34"/><rect x="1735" y="1330" width="3.5" height="34"/><rect x="1745" y="1330" width="4.5" height="34"/></g>
<g fill="#b08060" opacity="0.25"><rect x="1640" y="1276" width="1.5" height="32"/><rect x="1648" y="1276" width="1.5" height="32"/><rect x="1664" y="1276" width="1.5" height="32"/><rect x="1690" y="1276" width="1.5" height="32"/><rect x="1700" y="1276" width="1.5" height="32"/><rect x="1722" y="1276" width="1.5" height="32"/><rect x="1750" y="1276" width="1.5" height="32"/><rect x="1756" y="1276" width="1.5" height="32"/></g>
<rect x="1629.5" y="1276" width="3.5" height="105" fill="#a83c44" opacity="0.7"/>
<circle cx="1662" cy="1292" r="3.6" fill="#2a1612"/><circle cx="1659" cy="1345" r="3.8" fill="#c02a34"/><circle cx="1661" cy="1373" r="2" fill="#4a2a20" opacity="0.7"/>

<circle cx="1626" cy="1565" r="80" fill="#000" opacity="0.28" filter="url(#sh)"/>
<circle cx="1619.5" cy="1557.8" r="79.5" fill="url(#rc)"/>
<g stroke="#000" stroke-width="4.8" stroke-dasharray="20 10"><line x1="1620" y1="1474.4" x2="1862" y2="1474.4"/><line x1="1619.2" y1="1638.3" x2="1861.2" y2="1638.3"/></g>
<text transform="translate(1852.2 0) rotate(-90)" x="-1620.23" y="0" font-size="61.9" textLength="124.72" lengthAdjust="spacingAndGlyphs">6 mm</text>
<text x="203.58" y="1933" font-size="33.3" textLength="1593.63" lengthAdjust="spacingAndGlyphs">Disclaimer: Due to the unique nature of each gemstone, your gemstone may vary slightly from the picture shown.</text>
</svg>
</body></html>
